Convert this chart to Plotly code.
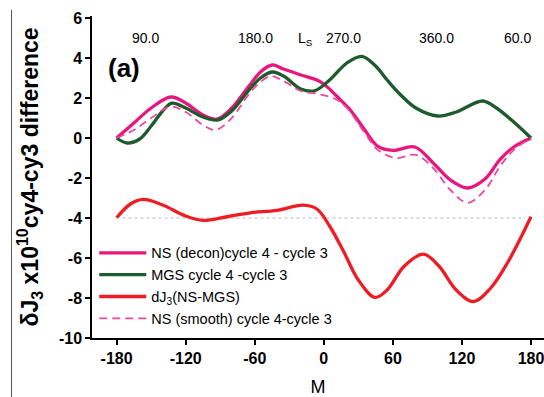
import plotly.graph_objects as go

# ---------------- data ----------------
M_ns = [-180, -165, -150, -133, -120, -105, -93, -80, -65, -55, -45, -35, -20, -6, 1, 12, 23, 35, 47, 60, 79, 95, 110, 125, 140, 153, 165, 180]
ns_decon = [0, 0.75, 1.5, 2.05, 1.75, 1.15, 0.94, 1.5, 2.6, 3.3, 3.65, 3.45, 3.15, 2.9, 2.65, 2.05, 1.4, 0.45, -0.42, -0.62, -0.45, -1.25, -2.1, -2.5, -2.05, -1.08, -0.45, 0]

M_mgs = [-180, -171, -160, -150, -140, -132, -120, -105, -92, -80, -65, -55, -45, -35, -20, -8, 5, 20, 33, 45, 55, 66, 80, 99, 115, 138, 150, 165, 180]
mgs = [0, -0.25, -0.05, 0.6, 1.35, 1.74, 1.5, 1.05, 0.9, 1.35, 2.4, 3.0, 3.3, 3.1, 2.45, 2.36, 2.9, 3.75, 4.08, 3.6, 2.9, 2.2, 1.5, 1.1, 1.3, 1.85, 1.5, 0.8, 0]

M_dj = [-180, -168, -157, -140, -120, -105, -85, -64, -41, -18, -6, 5, 17, 30, 44.5, 55, 70, 86.5, 100, 115, 130, 145, 160, 180]
dj3 = [-3.99, -3.3, -3.07, -3.35, -3.9, -4.12, -3.95, -3.74, -3.62, -3.36, -3.55, -4.4, -5.65, -7.1, -7.97, -7.6, -6.4, -5.81, -6.4, -7.6, -8.18, -7.5, -6.2, -3.94]

M_sm = [-180, -165, -150, -133, -120, -105, -94, -80, -65, -55, -46, -35, -20, -5, 10, 20, 35, 47, 63, 80, 95, 110, 125, 140, 153, 165, 180]
ns_smooth = [0, 0.4, 1.0, 1.57, 1.3, 0.65, 0.4, 1.0, 2.2, 2.8, 3.1, 2.85, 2.35, 2.2, 1.95, 1.5, 0.3, -0.6, -1.0, -0.84, -1.5, -2.6, -3.24, -2.6, -1.42, -0.6, 0]

names = ["NS (decon)cycle 4 - cycle 3", "MGS cycle 4 -cycle 3",
         "dJ<sub>3</sub>(NS-MGS)", "NS (smooth) cycle 4-cycle 3"]

x_ticks = [-180, -120, -60, 0, 60, 120, 180]
x_tick_txt = ["-180", "-120", "-60", "0", "60", "120", "180"]
y_ticks = [-10, -8, -6, -4, -2, 0, 2, 4, 6]
y_tick_txt = ["-10", "-8", "-6", "-4", "-2", "0", "2", "4", "6"]

# top Ls axis: tick positions (in M) and labelled ticks
ls_tick_M = [-192, -155, -120.4, -88.5, -59.6, -33.6, -9, 17, 42.5, 69.7, 98, 131.3, 167.5]
ls_label_M = [-155, -59.6, 17, 98, 168]
ls_label_txt = ["90.0", "180.0", "270.0", "360.0", "60.0"]

ref_level = -4
ref_span = [-175, 175]

# ---------------- figure ----------------
FONT = "Arial, Liberation Sans, sans-serif"
PINK = "#E8177D"
PINK2 = "#EE4A9A"
GREEN = "#1D5B2C"
RED = "#EE1C25"

fig = go.Figure()
fig.add_trace(go.Scatter(x=M_ns, y=ns_decon, mode="lines", name=names[0],
                         line=dict(color=PINK, width=3.3, shape="spline", smoothing=1.0)))
fig.add_trace(go.Scatter(x=M_mgs, y=mgs, mode="lines", name=names[1],
                         line=dict(color=GREEN, width=3.3, shape="spline", smoothing=1.0)))
fig.add_trace(go.Scatter(x=M_dj, y=dj3, mode="lines", name=names[2],
                         line=dict(color=RED, width=3.3, shape="spline", smoothing=1.0)))
fig.add_trace(go.Scatter(x=M_sm, y=ns_smooth, mode="lines", name=names[3],
                         line=dict(color=PINK2, width=1.8, dash="8px,5px", shape="spline", smoothing=1.0)))

# dotted reference line
fig.add_shape(type="line", xref="x", yref="y", x0=ref_span[0], x1=ref_span[1],
              y0=ref_level, y1=ref_level, line=dict(color="#CFCFCF", width=1.5, dash="dot"), layer="below")

# left frame line of the figure
fig.add_shape(type="line", xref="paper", yref="paper", x0=-0.178, x1=-0.178, y0=-0.2, y1=1.019,
              line=dict(color="#555555", width=1))

# top Ls labels
for m, t in zip(ls_label_M, ls_label_txt):
    fig.add_annotation(x=m, y=0.932, xref="x", yref="paper", text=t, showarrow=False,
                       font=dict(family=FONT, size=14, color="black"), xanchor="center", yanchor="middle")
fig.add_annotation(x=-15.5, y=0.93, xref="x", yref="paper", text="L<sub>S</sub>", showarrow=False,
                   font=dict(family=FONT, size=14, color="black"), xanchor="center", yanchor="middle")
fig.add_annotation(x=-189, y=0.84, xref="x", yref="paper", text="<b>(a)</b>", showarrow=False,
                   font=dict(family=FONT, size=26, color="black"), xanchor="left", yanchor="middle")

fig.update_layout(
    width=544, height=397,
    margin=dict(l=92, r=0, t=16, b=59, autoexpand=False),
    paper_bgcolor="white", plot_bgcolor="white",
    font=dict(family=FONT, color="black"),
    xaxis=dict(range=[-201.4, 191.3], tickvals=x_ticks, ticktext=x_tick_txt, ticks="outside", ticklen=5,
               tickwidth=1.5, tickcolor="black", showline=True, linecolor="black", linewidth=1.5,
               showgrid=False, zeroline=False, ticklabeloverflow="allow",
               tickfont=dict(family=FONT, size=16, weight="bold"),
               title=dict(text="M", font=dict(family=FONT, size=18), standoff=16)),
    xaxis2=dict(range=[-201.4, 191.3], overlaying="x", side="top", anchor="y", tickvals=ls_tick_M,
                ticks="inside", ticklen=4, tickwidth=1.5, tickcolor="black", showticklabels=False,
                showline=True, linecolor="black", linewidth=1.5, showgrid=False, zeroline=False),
    yaxis=dict(range=[-10, 6.1], tickvals=y_ticks, ticktext=y_tick_txt, ticks="outside", ticklen=5,
               tickwidth=1.5, tickcolor="black", showline=True, linecolor="black", linewidth=1.5,
               showgrid=False, zeroline=False, tickfont=dict(family=FONT, size=16, weight="bold"),
               title=dict(text="δJ<sub>3</sub> x10<sup>10</sup>cy4-cy3 difference",
                          font=dict(family=FONT, size=23, weight="bold"), standoff=14)),
    legend=dict(x=0.005, y=0.314, xanchor="left", yanchor="top", bgcolor="rgba(0,0,0,0)",
                font=dict(family=FONT, size=14.5, color="black"), itemwidth=47, tracegroupgap=0),
    showlegend=True,
)

fig.write_html("out.html", config={"displayModeBar": False},
               post_script="document.body.style.margin='0';")
